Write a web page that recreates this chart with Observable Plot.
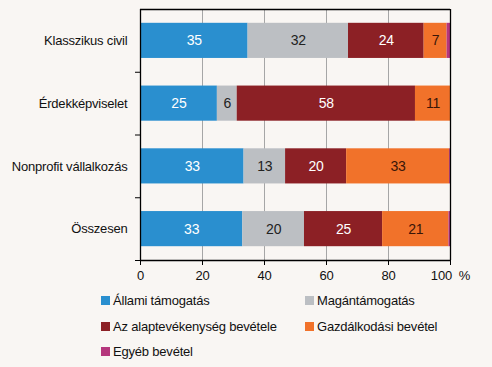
<!DOCTYPE html>
<html><head><meta charset="utf-8">
<script src="https://cdn.jsdelivr.net/npm/d3@7"></script>
<script src="https://cdn.jsdelivr.net/npm/@observablehq/plot@0.6"></script>
<style>
html,body{margin:0;padding:0;background:#f9f6f3;}
body{width:492px;height:367px;position:relative;overflow:hidden;font-family:"Liberation Sans",Arial,sans-serif;}
#legend{position:absolute;left:0;top:0;width:492px;height:367px;pointer-events:none;}
.li{position:absolute;font-size:13px;color:#111;line-height:16px;white-space:nowrap;letter-spacing:-0.2px;}
.li span{display:inline-block;width:9px;height:9px;margin-right:3px;vertical-align:-0px;}
</style></head>
<body>
<div id="chart"></div>
<div id="legend"></div>
<script>
const categories = ["Klasszikus civil", "Érdekképviselet", "Nonprofit vállalkozás", "Összesen"];
const seriesNames = ["Állami támogatás", "Magántámogatás", "Az alaptevékenység bevétele", "Gazdálkodási bevétel", "Egyéb bevétel"];
const colors = ["#2a8fcf", "#bcbfc3", "#8c2025", "#f1722a", "#b5367c"];
const labelColors = ["#ffffff", "#222222", "#ffffff", "#3a1608", "#ffffff"];
const allami = [34.7, 24.8, 33.4, 33.0];
const magan = [32.4, 6.4, 13.4, 19.9];
const alap = [24.4, 57.5, 19.7, 25.2];
const gazd = [7.4, 11.3, 33.2, 21.4];
const egyeb = [1.1, 0.0, 0.3, 0.5];
const xTicks = [0, 20, 40, 60, 80, 100];

const seriesValues = [allami, magan, alap, gazd, egyeb];
const rows = [];
categories.forEach((c, i) => {
  let acc = 0;
  seriesValues.forEach((vals, s) => {
    const v = vals[i];
    rows.push({cat: c, idx: i, s, series: seriesNames[s], value: v, x1: acc, x2: acc + v});
    acc += v;
  });
});

const W = 492, H = 290;
const chart = Plot.plot({
  width: W, height: H,
  marginLeft: 140, marginRight: 42, marginTop: 9, marginBottom: 30,
  style: {background: "transparent", fontFamily: "'Liberation Sans',Arial,sans-serif", fontSize: "13px", color: "#111", letterSpacing: "-0.2px"},
  x: {domain: [0, 100], axis: null},
  y: {domain: [0, 4], reverse: true, axis: null},
  color: {domain: seriesNames, range: colors},
  marks: [
    Plot.ruleX([20, 40, 60, 80], {stroke: "#a6a6a6", strokeWidth: 1}),
    Plot.rectX(rows, {x1: "x1", x2: "x2", y1: d => d.idx + 0.22, y2: d => d.idx + 0.78, fill: "series"}),
    Plot.text(rows.filter(d => d.value >= 3), {x: d => (d.x1 + d.x2) / 2, y: d => d.idx + 0.5, text: d => String(Math.round(d.value)), fill: d => labelColors[d.s], fontSize: 14}),
    Plot.ruleY([0], {stroke: "#000", strokeWidth: 1.5}),
    Plot.ruleX([100], {stroke: "#000", strokeWidth: 1.3}),
    Plot.ruleX([0], {stroke: "#000", strokeWidth: 1.3}),
    Plot.ruleY([4], {stroke: "#000", strokeWidth: 1.3}),
    Plot.axisY([1, 2, 3, 4], {tickSize: 5, tickFormat: () => "", stroke: "#000"}),
    Plot.axisY(categories.map((c, i) => i + 0.5), {tickSize: 0, tickPadding: 13, tickFormat: v => categories[Math.floor(v)], fontSize: 13, fill: "#111"}),
    Plot.axisX(xTicks, {tickSize: 5, tickPadding: 5, tickFormat: d => d === 100 ? "100  %" : String(d), fontSize: 13, fill: "#111", stroke: "#000"})
  ]
});
document.getElementById("chart").appendChild(chart);

const legendPos = [[101, 301], [305, 301], [101, 327], [305, 327], [101, 352]];
const lg = document.getElementById("legend");
seriesNames.forEach((n, i) => {
  const d = document.createElement("div");
  d.className = "li";
  d.style.left = legendPos[i][0] + "px";
  d.style.top = (legendPos[i][1] - 8) + "px";
  d.innerHTML = `<span style="background:${colors[i]}"></span>${n}`;
  lg.appendChild(d);
});
</script>
</body></html>
